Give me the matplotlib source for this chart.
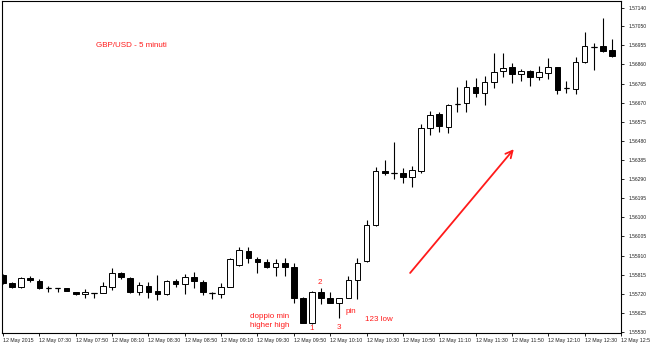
import matplotlib
matplotlib.use("Agg")
import matplotlib.pyplot as plt
import numpy as np

plt.rcParams["font.family"] = ["Liberation Sans", "DejaVu Sans"]

# GBP/USD 5-minute candles, 12 May 2015 07:10 .. 12:45
opens = [1.55813, 1.55774, 1.55754, 1.55798, 1.55785, 1.55747, 1.55747, 1.55747, 1.55727, 1.55719,
         1.55725, 1.55725, 1.55755, 1.55822, 1.55800, 1.55730, 1.55759, 1.55734, 1.55717, 1.55785,
         1.55767, 1.55802, 1.55780, 1.55725, 1.55717, 1.55755, 1.55863, 1.55934, 1.55891, 1.55876,
         1.55852, 1.55874, 1.55852, 1.55697, 1.55573, 1.55727, 1.55697, 1.55676, 1.55697, 1.55788,
         1.55883, 1.56062, 1.56328, 1.56322, 1.56322, 1.56299, 1.56332, 1.56542, 1.56612, 1.56550,
         1.56662, 1.56667, 1.56746, 1.56716, 1.56774, 1.56829, 1.56846, 1.56812, 1.56827, 1.56796,
         1.56819, 1.56849, 1.56741, 1.56736, 1.56870, 1.56948, 1.56951, 1.56932]
highs = [1.55818, 1.55780, 1.55805, 1.55810, 1.55793, 1.55760, 1.55747, 1.55749, 1.55729, 1.55742,
         1.55725, 1.55780, 1.55850, 1.55830, 1.55805, 1.55780, 1.55780, 1.55813, 1.55788, 1.55792,
         1.55817, 1.55827, 1.55788, 1.55730, 1.55775, 1.55896, 1.55954, 1.55954, 1.55904, 1.55891,
         1.55891, 1.55896, 1.55871, 1.55705, 1.55734, 1.55747, 1.55730, 1.55697, 1.55808, 1.55896,
         1.56087, 1.56351, 1.56385, 1.56474, 1.56343, 1.56355, 1.56564, 1.56628, 1.56625, 1.56663,
         1.56749, 1.56782, 1.56791, 1.56802, 1.56918, 1.56918, 1.56868, 1.56836, 1.56832, 1.56852,
         1.56893, 1.56849, 1.56777, 1.56898, 1.57022, 1.56968, 1.57089, 1.56985]
lows = [1.55769, 1.55747, 1.55750, 1.55780, 1.55744, 1.55730, 1.55730, 1.55734, 1.55716, 1.55700,
        1.55700, 1.55722, 1.55739, 1.55792, 1.55725, 1.55714, 1.55697, 1.55689, 1.55714, 1.55752,
        1.55719, 1.55747, 1.55714, 1.55693, 1.55700, 1.55752, 1.55858, 1.55874, 1.55822, 1.55847,
        1.55808, 1.55808, 1.55676, 1.55573, 1.55570, 1.55669, 1.55673, 1.55600, 1.55697, 1.55693,
        1.55880, 1.56057, 1.56310, 1.56289, 1.56269, 1.56251, 1.56322, 1.56509, 1.56525, 1.56520,
        1.56625, 1.56625, 1.56699, 1.56658, 1.56741, 1.56799, 1.56766, 1.56777, 1.56754, 1.56782,
        1.56786, 1.56711, 1.56716, 1.56711, 1.56865, 1.56832, 1.56920, 1.56898]
closes = [1.55774, 1.55755, 1.55798, 1.55788, 1.55747, 1.55747, 1.55747, 1.55734, 1.55719, 1.55727,
          1.55725, 1.55759, 1.55822, 1.55802, 1.55730, 1.55764, 1.55730, 1.55717, 1.55783, 1.55769,
          1.55802, 1.55785, 1.55727, 1.55725, 1.55755, 1.55891, 1.55938, 1.55896, 1.55876, 1.55852,
          1.55874, 1.55852, 1.55697, 1.55576, 1.55730, 1.55697, 1.55676, 1.55697, 1.55788, 1.55874,
          1.56062, 1.56330, 1.56319, 1.56322, 1.56299, 1.56333, 1.56542, 1.56608, 1.56554, 1.56658,
          1.56662, 1.56749, 1.56719, 1.56774, 1.56824, 1.56841, 1.56812, 1.56829, 1.56796, 1.56822,
          1.56849, 1.56733, 1.56741, 1.56870, 1.56951, 1.56948, 1.56928, 1.56902]

time_labels = ["12 May 2015", "12 May 07:30", "12 May 07:50", "12 May 08:10", "12 May 08:30",
               "12 May 08:50", "12 May 09:10", "12 May 09:30", "12 May 09:50", "12 May 10:10",
               "12 May 10:30", "12 May 10:50", "12 May 11:10", "12 May 11:30", "12 May 11:50",
               "12 May 12:10", "12 May 12:30", "12 May 12:50"]
price_ticks = [1.57140, 1.57050, 1.56955, 1.56860, 1.56765, 1.56670, 1.56575, 1.56480, 1.56385,
               1.56290, 1.56195, 1.56100, 1.56005, 1.55910, 1.55815, 1.55720, 1.55625, 1.55530]

o = np.array(opens)
h = np.array(highs)
l = np.array(lows)
c = np.array(closes)
x = np.arange(len(o))

fig = plt.figure(figsize=(6.5, 3.45), dpi=100)
ax = fig.add_axes([2 / 650, 1 - 332.7 / 345, 619 / 650, 331.7 / 345])

ax.vlines(x, l, h, color="black", lw=0.8, zorder=1)

up = c >= o
bw = 0.62
ax.bar(x[~up], (o - c)[~up], bottom=c[~up], width=bw, color="black",
       edgecolor="black", lw=0.7, zorder=2)
ax.bar(x[up], (c - o)[up], bottom=o[up], width=bw, color="white",
       edgecolor="black", lw=0.7, zorder=2)
doji = o == c
ax.hlines(o[doji], x[doji] - bw / 2, x[doji] + bw / 2, color="black", lw=0.9, zorder=3)

ax.set_xlim(-0.11, 68)
ax.set_ylim(1.55527, 1.57175)

ax.set_xticks(np.arange(0, 4 * len(time_labels), 4))
ax.set_xticklabels(time_labels, fontsize=3.8, ha="left", color="#222222")
ax.tick_params(axis="x", length=2.5, width=0.6, pad=1.5)

ax.yaxis.tick_right()
ax.set_yticks(price_ticks)
ax.set_yticklabels([f"{p:.5f}" for p in price_ticks], fontsize=3.6, color="#222222")
ax.tick_params(axis="y", length=2.5, width=0.6, pad=3)

for s in ax.spines.values():
    s.set_linewidth(0.8)

red = "#ff1a1a"
ax.text(10.2, 1.57180 - 0.0000497 * 45.5, "GBP/USD - 5 minuti", color=red, fontsize=5.8, va="center")
ax.text(27.2, 1.57180 - 0.0000497 * 316, "doppio min", color=red, fontsize=5.8, va="center")
ax.text(27.2, 1.57180 - 0.0000497 * 325.5, "higher high", color=red, fontsize=5.8, va="center")
ax.text(34, 1.57180 - 0.0000497 * 328.5, "1", color=red, fontsize=5.8, va="center", ha="center")
ax.text(34.9, 1.57180 - 0.0000497 * 282.5, "2", color=red, fontsize=5.8, va="center", ha="center")
ax.text(37, 1.57180 - 0.0000497 * 327.5, "3", color=red, fontsize=5.8, va="center", ha="center")
ax.text(38.3, 1.57180 - 0.0000497 * 311, "pin", color=red, fontsize=5.8, va="center", ha="center")
ax.text(39.8, 1.57180 - 0.0000497 * 319, "123 low", color=red, fontsize=5.8, va="center")

ax.annotate("", xy=(56.4, 1.57180 - 0.0000497 * 147), xytext=(44.6, 1.57180 - 0.0000497 * 275),
            arrowprops=dict(arrowstyle="->,head_length=0.5,head_width=0.25", color=red, lw=1.3))

fig.savefig("out.png", dpi=100)
